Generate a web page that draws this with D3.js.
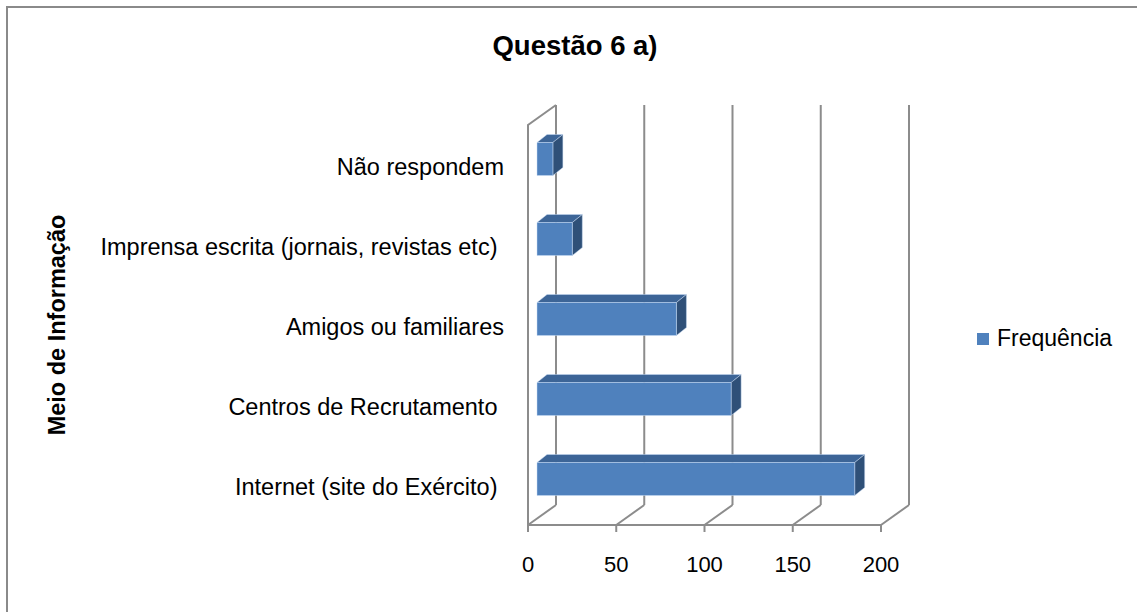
<!DOCTYPE html>
<html>
<head>
<meta charset="utf-8">
<script src="https://cdn.jsdelivr.net/npm/d3@7"></script>
<style>
    body { margin: 0; background: #fff; }
    text { font-family: "Liberation Sans", Arial, sans-serif; }
</style>
</head>
<body>
<svg id="chart" width="1137" height="612"></svg>
<script>
// data, bottom to top as in the picture
const categories = [
    "Internet (site do Exército) ",
    "Centros de Recrutamento ",
    "Amigos ou familiares",
    "Imprensa escrita (jornais, revistas etc) ",
    "Não respondem"
];
const frequencia = [180, 110, 79, 20, 9];
const xTicks = [0, 50, 100, 150, 200];
const seriesName = "Frequência";

const chart = {
    svg: d3.select("#chart"),

    colors: {
        front: "#4f81bd",
        top: "#3d6597",
        side: "#2f5078",
        grid: "#8c8c8c"
    },

    // depth of the walls / floor and of the bars
    wall: { dx: 28, dy: -20 },
    barShift: { dx: 9, dy: -6 },
    barDepth: { dx: 10, dy: -8 },

    scales: { x: null, y: null },

    setScales() {
        this.scales.x = d3.scaleLinear([0, 200], [528, 881]);
        this.scales.y = d3.scaleBand(categories, [525, 125])
            .paddingInner(0.5875)
            .paddingOuter(0.29375);
    },

    frame() {
        this.svg.append("rect")
            .attr("x", 7).attr("y", 7)
            .attr("width", 1200).attr("height", 700)
            .attr("fill", "none")
            .attr("stroke", "#8a8a8a")
            .attr("stroke-width", 2);
    },

    walls() {
        const x = this.scales.x, w = this.wall;
        const g = this.svg.append("g").attr("stroke", this.colors.grid)
            .attr("stroke-width", 2).attr("fill", "none");
        const yTop = 125, yBot = 525;

        // back wall gridlines
        g.selectAll("line.grid").data(xTicks).enter().append("line")
            .attr("class", "grid")
            .attr("x1", d => x(d) + w.dx).attr("x2", d => x(d) + w.dx)
            .attr("y1", yTop + w.dy).attr("y2", yBot + w.dy);

        // floor diagonals
        g.selectAll("line.floor").data(xTicks).enter().append("line")
            .attr("class", "floor")
            .attr("x1", d => x(d)).attr("x2", d => x(d) + w.dx)
            .attr("y1", yBot).attr("y2", yBot + w.dy);

        // front floor edge + ticks
        g.append("line")
            .attr("x1", x(0)).attr("x2", x(200))
            .attr("y1", yBot).attr("y2", yBot);
        g.selectAll("line.tick").data(xTicks).enter().append("line")
            .attr("class", "tick")
            .attr("x1", d => x(d)).attr("x2", d => x(d))
            .attr("y1", yBot).attr("y2", yBot + 7);

        // left side wall
        g.append("path")
            .attr("d", `M${x(0)},${yBot}V${yTop}L${x(0) + w.dx},${yTop + w.dy}`);

        this.svg.append("g").selectAll("text").data(xTicks).enter().append("text")
            .attr("x", d => x(d))
            .attr("y", 572)
            .attr("text-anchor", "middle")
            .attr("font-size", "22px")
            .attr("fill", "#000")
            .text(d => d);
    },

    bars() {
        const x = this.scales.x, y = this.scales.y;
        const s = this.barShift, b = this.barDepth;
        const data = categories.map((c, i) => ({ cat: c, val: frequencia[i] }));
        const bw = y.bandwidth();

        const g = this.svg.append("g");
        const bars = g.selectAll("g.bar").data(data).enter().append("g").attr("class", "bar");

        const x0 = () => x(0) + s.dx;
        const x1 = d => x(d.val) + s.dx;
        const y0 = d => y(d.cat) + s.dy;

        bars.append("path")
            .attr("fill", this.colors.top)
            .attr("d", d => `M${x0()},${y0(d)}L${x1(d)},${y0(d)}L${x1(d) + b.dx},${y0(d) + b.dy}L${x0() + b.dx},${y0(d) + b.dy}Z`);

        bars.append("path")
            .attr("fill", this.colors.side)
            .attr("d", d => `M${x1(d)},${y0(d)}L${x1(d) + b.dx},${y0(d) + b.dy}L${x1(d) + b.dx},${y0(d) + bw + b.dy}L${x1(d)},${y0(d) + bw}Z`);

        bars.append("rect")
            .attr("fill", this.colors.front)
            .attr("x", x0())
            .attr("y", d => y0(d))
            .attr("width", d => x1(d) - x0())
            .attr("height", bw);

        bars.selectAll("path, rect")
            .attr("stroke", "rgba(200,220,245,0.6)")
            .attr("stroke-width", 0.8)
            .attr("stroke-linejoin", "round");
    },

    labels() {
        const y = this.scales.y;
        this.svg.append("g").selectAll("text").data(categories).enter().append("text")
            .attr("x", 504)
            .attr("y", d => y(d) + y.bandwidth() / 2 + 10)
            .attr("text-anchor", "end")
            .attr("font-size", "23.5px")
            .style("white-space", "pre")
            .attr("fill", "#000")
            .text(d => d);

        this.svg.append("text")
            .attr("transform", "translate(65, 325) rotate(-90)")
            .attr("text-anchor", "middle")
            .attr("font-size", "23.5px")
            .attr("font-weight", "bold")
            .text("Meio de Informação");

        this.svg.append("text")
            .attr("x", 575).attr("y", 55)
            .attr("text-anchor", "middle")
            .attr("font-size", "27.5px")
            .attr("font-weight", "bold")
            .text("Questão 6 a)");
    },

    legend() {
        const g = this.svg.append("g").attr("transform", "translate(977, 333)");
        g.append("rect")
            .attr("width", 12).attr("height", 12)
            .attr("fill", this.colors.front);
        g.append("text")
            .attr("x", 20).attr("y", 13)
            .attr("font-size", "23px")
            .text(seriesName);
    },

    driver() {
        this.setScales();
        this.frame();
        this.walls();
        this.bars();
        this.labels();
        this.legend();
    }
}

chart.driver();
</script>
</body>
</html>
